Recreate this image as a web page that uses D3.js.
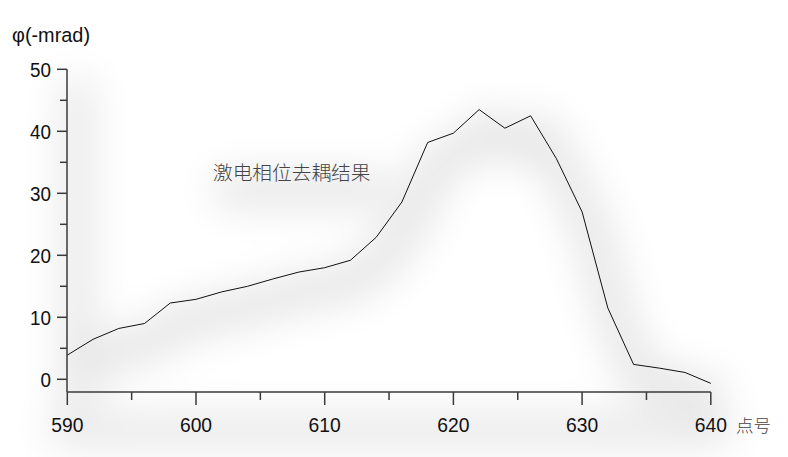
<!DOCTYPE html>
<html><head><meta charset="utf-8">
<script src="https://cdn.jsdelivr.net/npm/d3@7"></script>
<style>body{margin:0;background:#fff}svg{display:block}</style>
</head><body>
<svg id="c" width="788" height="457"></svg>
<script>
const pointNo = [590,592,594,596,598,600,602,604,606,608,610,612,614,616,618,620,622,624,626,628,630,632,634,636,638,640];
const phase   = [3.9,6.45,8.2,9.0,12.3,12.9,14.1,15.0,16.2,17.3,18.0,19.2,22.9,28.6,38.2,39.7,43.5,40.5,42.5,35.6,27.0,11.5,2.4,1.8,1.1,-0.65];
const xTicks = [590,600,610,620,630,640];
const xMinor = [595,605,615,625,635];
const yTicks = [0,10,20,30,40,50];
const yMinor = [5,15,25,35,45];
const yLabel = "φ(-mrad)";
const xUnit = "点号";
const title = "激电相位去耦结果";

const svg = d3.select("#c");
const x = d3.scaleLinear().domain([590,640]).range([67.3,710.8]);
const y = d3.scaleLinear().domain([0,50]).range([379.3,69.3]);
const axisY = 392;

const defs = svg.append("defs");
const f = defs.append("filter").attr("id","sh").attr("x","-50%").attr("y","-50%").attr("width","200%").attr("height","200%");
f.append("feGaussianBlur").attr("stdDeviation",20);

// soft shadow layer
const sh = svg.append("g").attr("filter","url(#sh)").attr("opacity",0.1).attr("transform","translate(10,18)");
const line = d3.line().x((d,i)=>x(pointNo[i])).y(d=>y(d));
sh.append("path").attr("d",line(phase)).attr("fill","none").attr("stroke","#000").attr("stroke-width",36);
sh.append("line").attr("x1",67).attr("x2",67).attr("y1",60).attr("y2",axisY).attr("stroke","#000").attr("stroke-width",30);
sh.append("line").attr("x1",40).attr("x2",720).attr("y1",axisY+20).attr("y2",axisY+20).attr("stroke","#000").attr("stroke-width",30);
sh.append("rect").attr("x",205).attr("y",155).attr("width",175).attr("height",34).attr("fill","#000");

const axCol = "#3a3a3a";
const font = "'Liberation Sans', Arial, sans-serif";
const fs = 20.5, sx = 0.92;

// Y axis
const ya = svg.append("g").attr("transform","translate(67,0)");
ya.append("line").attr("x1",0).attr("x2",0).attr("y1",y(50)).attr("y2",axisY).attr("stroke",axCol).attr("stroke-width",1.5);
ya.selectAll(".ymaj").data(yTicks).join("line").attr("x1",-10).attr("x2",0).attr("y1",d=>y(d)).attr("y2",d=>y(d)).attr("stroke",axCol).attr("stroke-width",1.5);
ya.selectAll(".ymin").data(yMinor).join("line").attr("x1",-7).attr("x2",0).attr("y1",d=>y(d)).attr("y2",d=>y(d)).attr("stroke",axCol).attr("stroke-width",1.5);
ya.selectAll(".ylab").data(yTicks).join("text")
  .attr("transform",d=>`translate(-16,${y(d)+7.2}) scale(${sx},1)`)
  .attr("text-anchor","end").attr("font-family",font).attr("font-size",fs).attr("fill","#111").text(d=>d);

// X axis
const xa = svg.append("g").attr("transform",`translate(0,${axisY})`);
xa.append("line").attr("x1",x(590)).attr("x2",x(640)).attr("y1",0).attr("y2",0).attr("stroke",axCol).attr("stroke-width",1.5);
xa.selectAll(".xmaj").data(xTicks).join("line").attr("x1",d=>x(d)).attr("x2",d=>x(d)).attr("y1",0).attr("y2",13).attr("stroke",axCol).attr("stroke-width",1.5);
xa.selectAll(".xmin").data(xMinor).join("line").attr("x1",d=>x(d)).attr("x2",d=>x(d)).attr("y1",0).attr("y2",8).attr("stroke",axCol).attr("stroke-width",1.5);
xa.selectAll(".xlab").data(xTicks).join("text")
  .attr("transform",d=>`translate(${x(d)},40) scale(${sx},1)`)
  .attr("text-anchor","middle").attr("font-family",font).attr("font-size",fs+0.5).attr("fill","#111").text(d=>d);
xa.append("text").attr("x",736).attr("y",40).attr("font-family","'Noto Sans CJK SC', sans-serif").attr("font-weight",300)
  .attr("font-size",17.5).attr("fill","#444").text(xUnit);

// Y label
svg.append("text").attr("x",12).attr("y",42).attr("font-family",font).attr("font-size",20.5)
  .attr("textLength",78).attr("lengthAdjust","spacingAndGlyphs").attr("fill","#111").text(yLabel);

// Title annotation
svg.append("text").attr("x",213).attr("y",180).attr("font-family","'Noto Sans CJK SC', sans-serif").attr("font-weight",300)
  .attr("font-size",19.7).attr("fill","#444").text(title);

// data line
svg.append("path").attr("d",line(phase)).attr("fill","none").attr("stroke","#111").attr("stroke-width",1);
</script>
</body></html>
